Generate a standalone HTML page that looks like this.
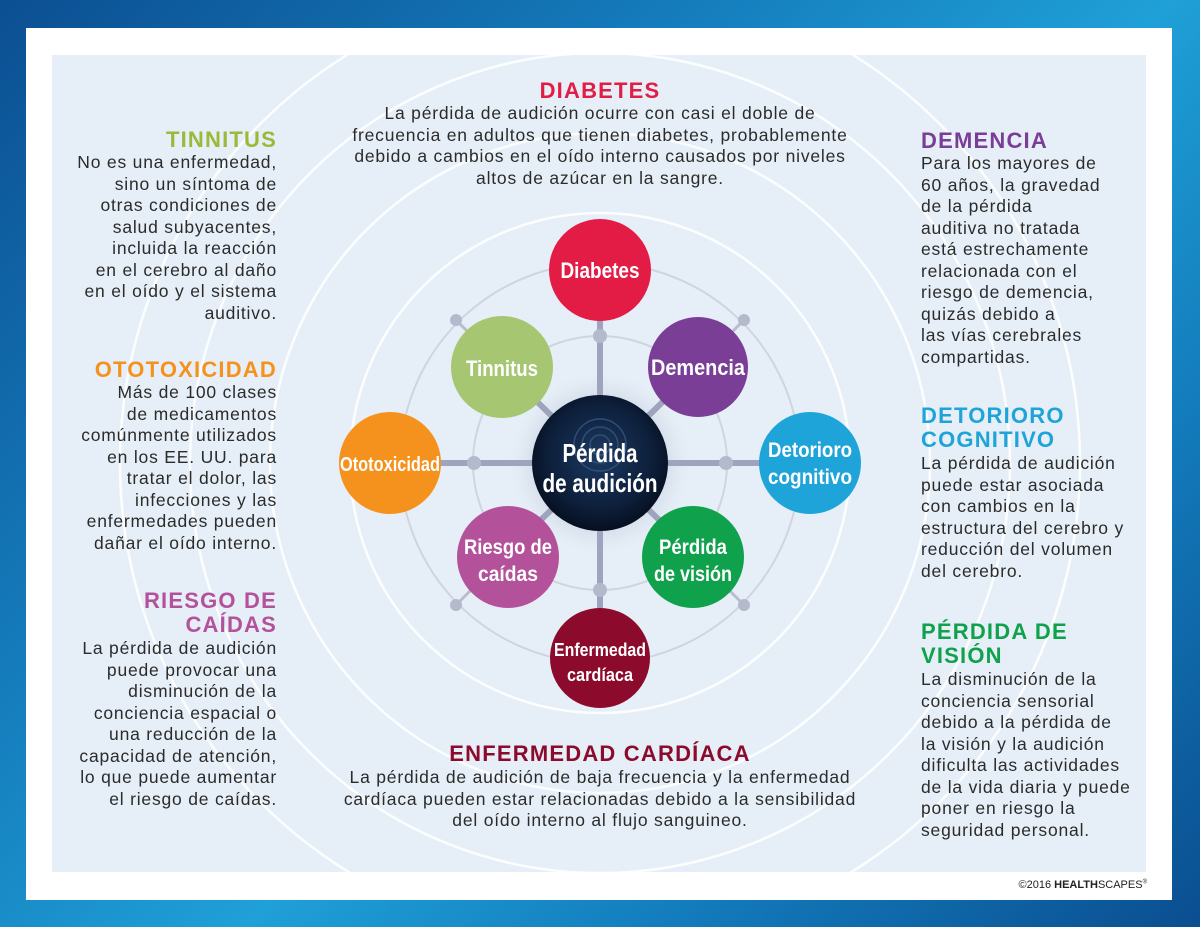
<!DOCTYPE html>
<html><head><meta charset="utf-8"><style>
body{margin:0;width:1200px;height:927px;overflow:hidden;position:relative;font-family:"Liberation Sans",sans-serif;
background:linear-gradient(135deg,#0b4f92 0%,#1680bf 35%,#1fa0d6 55%,#137cbc 75%,#0a4e90 100%);}
.card{position:absolute;left:26px;top:28px;width:1146px;height:872px;background:#fff}
.panel{position:absolute;left:52px;top:55px;width:1094px;height:817px;background:#e6eff7;overflow:hidden}
.t{position:absolute;font-size:17.5px;line-height:21.5px;color:#2b2b2b;white-space:nowrap;letter-spacing:0.8px}
.h{position:absolute;font-size:22px;line-height:24px;font-weight:bold;white-space:nowrap;letter-spacing:1.2px}
.r{text-align:right}.c{text-align:center}
</style></head><body>
<div class="card"></div>
<div class="panel"></div>
<svg style="position:absolute;left:0;top:0" width="1200" height="927">
<defs>
<clipPath id="cp"><rect x="52" y="55" width="1094" height="817"/></clipPath>
<radialGradient id="cg" cx="50%" cy="45%" r="55%"><stop offset="0" stop-color="#1c3a62"/><stop offset="0.7" stop-color="#0d1f3a"/><stop offset="1" stop-color="#060f20"/></radialGradient>
<radialGradient id="glow"><stop offset="0.6" stop-color="#c9d3e2"/><stop offset="1" stop-color="#e6eff7" stop-opacity="0"/></radialGradient>
</defs>
<g clip-path="url(#cp)" fill="none" stroke="#fff" stroke-width="2.5" opacity="0.9">
<circle cx="600" cy="463" r="250"/>
<circle cx="600" cy="463" r="330"/>
<circle cx="600" cy="463" r="410"/>
<circle cx="600" cy="463" r="480"/>
</g>
<g fill="none" stroke="#cfd4de" stroke-width="2">
<circle cx="600" cy="463" r="200"/>
<circle cx="600" cy="463" r="127"/>
</g>
<circle cx="600" cy="463" r="95" fill="url(#glow)"/>
<g stroke="#9ea4bd" stroke-width="6">
<line x1="600" y1="463" x2="600" y2="300"/><line x1="600" y1="463" x2="600" y2="620"/>
<line x1="600" y1="463" x2="420" y2="463"/><line x1="600" y1="463" x2="780" y2="463"/>
<line x1="600" y1="463" x2="520" y2="385"/><line x1="600" y1="463" x2="680" y2="385"/>
<line x1="600" y1="463" x2="520" y2="540"/><line x1="600" y1="463" x2="680" y2="540"/>
</g>
<g stroke="#b8bccd" stroke-width="3">
<line x1="456" y1="320" x2="480" y2="344"/><line x1="744" y1="320" x2="720" y2="344"/>
<line x1="456" y1="605" x2="480" y2="581"/><line x1="744" y1="605" x2="720" y2="581"/>
</g>
<g fill="#b4b9cc">
<circle cx="600" cy="336" r="7"/><circle cx="600" cy="590" r="7"/><circle cx="474" cy="463" r="7"/><circle cx="726" cy="463" r="7"/>
<circle cx="456" cy="320" r="6"/><circle cx="744" cy="320" r="6"/><circle cx="456" cy="605" r="6"/><circle cx="744" cy="605" r="6"/>
</g>
<circle cx="600" cy="463" r="68" fill="url(#cg)"/>
<g fill="none" stroke="#3a5680" stroke-width="1.5" opacity="0.8"><circle cx="600" cy="445" r="10"/><circle cx="600" cy="445" r="18"/><circle cx="600" cy="445" r="26"/></g>
<circle cx="600" cy="270" r="51" fill="#e31c45"/>
<circle cx="698" cy="367" r="50" fill="#7a3e96"/>
<circle cx="810" cy="463" r="51" fill="#1ea4d8"/>
<circle cx="693" cy="557" r="51" fill="#0fa14b"/>
<circle cx="600" cy="658" r="50" fill="#8c0b2c"/>
<circle cx="508" cy="557" r="51" fill="#b4519b"/>
<circle cx="390" cy="463" r="51" fill="#f5921e"/>
<circle cx="502" cy="367" r="51" fill="#a6c672"/>
<g fill="#fff" font-weight="bold" text-anchor="middle" lengthAdjust="spacingAndGlyphs">
<text x="600" y="278" font-size="22" textLength="79" lengthAdjust="spacingAndGlyphs">Diabetes</text>
<text x="698" y="375" font-size="22" textLength="94" lengthAdjust="spacingAndGlyphs">Demencia</text>
<text x="810" y="457" font-size="21" textLength="84" lengthAdjust="spacingAndGlyphs">Detorioro</text><text x="810" y="484" font-size="21" textLength="84" lengthAdjust="spacingAndGlyphs">cognitivo</text>
<text x="693" y="554" font-size="21" textLength="68" lengthAdjust="spacingAndGlyphs">Pérdida</text><text x="693" y="581" font-size="21" textLength="78" lengthAdjust="spacingAndGlyphs">de visión</text>
<text x="600" y="656" font-size="18" textLength="92" lengthAdjust="spacingAndGlyphs">Enfermedad</text><text x="600" y="681" font-size="18" textLength="66" lengthAdjust="spacingAndGlyphs">cardíaca</text>
<text x="508" y="554" font-size="21" textLength="88" lengthAdjust="spacingAndGlyphs">Riesgo de</text><text x="508" y="581" font-size="21" textLength="60" lengthAdjust="spacingAndGlyphs">caídas</text>
<text x="390" y="471" font-size="20" textLength="100" lengthAdjust="spacingAndGlyphs">Ototoxicidad</text>
<text x="502" y="376" font-size="22" textLength="72" lengthAdjust="spacingAndGlyphs">Tinnitus</text>
<text x="600" y="462" font-size="26" textLength="75" lengthAdjust="spacingAndGlyphs">Pérdida</text><text x="600" y="492" font-size="26" textLength="115" lengthAdjust="spacingAndGlyphs">de audición</text>
</g>
</svg>

<div class="h c" style="left:400px;width:400px;top:79px;color:#e31c45">DIABETES</div>
<div class="t c" style="left:300px;width:600px;top:103px">La pérdida de audición ocurre con casi el doble de<br>frecuencia en adultos que tienen diabetes, probablemente<br>debido a cambios en el oído interno causados por niveles<br>altos de azúcar en la sangre.</div>

<div class="h r" style="left:60px;width:217px;top:128px;color:#9bb93a">TINNITUS</div>
<div class="t r" style="left:40px;width:237px;top:152px">No es una enfermedad,<br>sino un síntoma de<br>otras condiciones de<br>salud subyacentes,<br>incluida la reacción<br>en el cerebro al daño<br>en el oído y el sistema<br>auditivo.</div>

<div class="h r" style="left:60px;width:217px;top:358px;color:#f5921e">OTOTOXICIDAD</div>
<div class="t r" style="left:40px;width:237px;top:382px">Más de 100 clases<br>de medicamentos<br>comúnmente utilizados<br>en los EE. UU. para<br>tratar el dolor, las<br>infecciones y las<br>enfermedades pueden<br>dañar el oído interno.</div>

<div class="h r" style="left:60px;width:217px;top:589px;color:#b4519b">RIESGO DE<br>CAÍDAS</div>
<div class="t r" style="left:40px;width:237px;top:638px">La pérdida de audición<br>puede provocar una<br>disminución de la<br>conciencia espacial o<br>una reducción de la<br>capacidad de atención,<br>lo que puede aumentar<br>el riesgo de caídas.</div>

<div class="h" style="left:921px;top:129px;color:#7a3e96">DEMENCIA</div>
<div class="t" style="left:921px;top:153px">Para los mayores de<br>60 años, la gravedad<br>de la pérdida<br>auditiva no tratada<br>está estrechamente<br>relacionada con el<br>riesgo de demencia,<br>quizás debido a<br>las vías cerebrales<br>compartidas.</div>

<div class="h" style="left:921px;top:404px;color:#1ea4d8">DETORIORO<br>COGNITIVO</div>
<div class="t" style="left:921px;top:453px">La pérdida de audición<br>puede estar asociada<br>con cambios en la<br>estructura del cerebro y<br>reducción del volumen<br>del cerebro.</div>

<div class="h" style="left:921px;top:620px;color:#0fa14b">PÉRDIDA DE<br>VISIÓN</div>
<div class="t" style="left:921px;top:669px">La disminución de la<br>conciencia sensorial<br>debido a la pérdida de<br>la visión y la audición<br>dificulta las actividades<br>de la vida diaria y puede<br>poner en riesgo la<br>seguridad personal.</div>

<div class="h c" style="left:350px;width:500px;top:742px;color:#8c0b2c">ENFERMEDAD CARDÍACA</div>
<div class="t c" style="left:300px;width:600px;top:767px">La pérdida de audición de baja frecuencia y la enfermedad<br>cardíaca pueden estar relacionadas debido a la sensibilidad<br>del oído interno al flujo sanguineo.</div>

<div style="position:absolute;right:53px;top:879px;font-size:11px;color:#222;white-space:nowrap">©2016 <b>HEALTH</b>SCAPES<sup style="font-size:6px">®</sup></div>
</body></html>
